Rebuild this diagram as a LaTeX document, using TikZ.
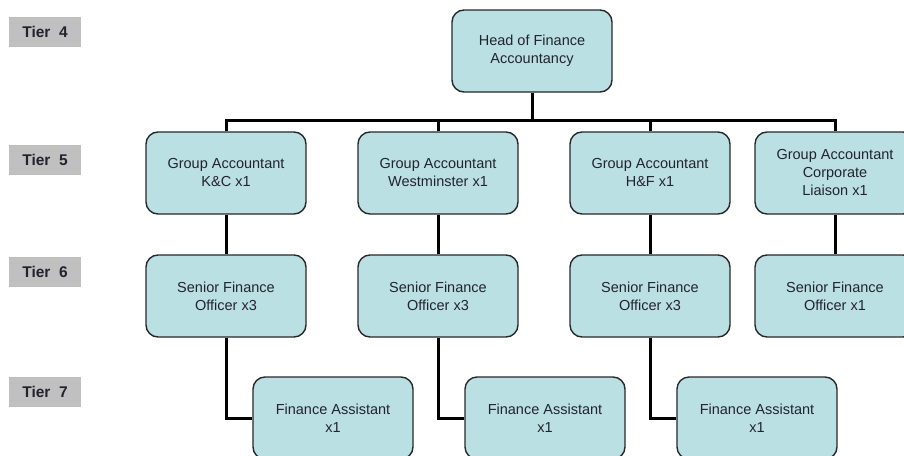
\documentclass[tikz,border=0pt]{standalone}
\usepackage{fontspec}
\setmainfont{Liberation Sans}
\usetikzlibrary{backgrounds}
\definecolor{boxfill}{RGB}{186,224,228}
\definecolor{boxline}{RGB}{40,40,40}
\definecolor{tierfill}{RGB}{192,192,192}
\definecolor{txt}{RGB}{35,35,45}
\tikzset{
  post/.style={draw=boxline, line width=1.4pt, fill=boxfill, rounded corners=12pt,
    minimum width=160pt, minimum height=82pt, inner sep=0pt, align=center,
    text=txt, font=\fontsize{14.5}{18}\selectfont},
  tier/.style={fill=tierfill, minimum width=72pt, minimum height=30pt, inner sep=0pt,
    text=txt, font=\fontsize{15.5}{17}\selectfont\bfseries},
  link/.style={draw=black, line width=3pt}
}
\begin{document}
\begin{tikzpicture}[x=1pt, y=-1pt]
\useasboundingbox (0,0) rectangle (904,455);
\clip (0,0) rectangle (904,455);

% tier markers
\node[tier] (t4) at (45,32)  {Tier\ \ 4};
\node[tier] (t5) at (45,160) {Tier\ \ 5};
\node[tier] (t6) at (45,272) {Tier\ \ 6};
\node[tier] (t7) at (45,392) {Tier\ \ 7};

% tier 4
\node[post] (head) at (532,51) {Head of Finance\\Accountancy};

% tier 5
\node[post] (ga1) at (226,173) {Group Accountant\\K\&C x1};
\node[post] (ga2) at (438,173) {Group Accountant\\Westminster x1};
\node[post] (ga3) at (650,173) {Group Accountant\\H\&F x1};
\node[post] (ga4) at (835,173) {Group Accountant\\Corporate\\Liaison x1};

% tier 6
\node[post] (sfo1) at (226,296) {Senior Finance\\Officer x3};
\node[post] (sfo2) at (438,296) {Senior Finance\\Officer x3};
\node[post] (sfo3) at (650,296) {Senior Finance\\Officer x3};
\node[post] (sfo4) at (835,296) {Senior Finance\\Officer x1};

% tier 7
\node[post] (fa1) at (333,418) {Finance Assistant\\x1};
\node[post] (fa2) at (545,418) {Finance Assistant\\x1};
\node[post] (fa3) at (757,418) {Finance Assistant\\x1};

% reporting lines, kept behind the boxes
\coordinate (bus) at (532,120);
\begin{scope}[on background layer]
\draw[link] (head.south) -- (bus);
\draw[link] (ga1.north) -- (ga1.north |- bus) -- (ga4.north |- bus) -- (ga4.north);
\draw[link] (ga2.north) -- (ga2.north |- bus);
\draw[link] (ga3.north) -- (ga3.north |- bus);
\draw[link] (ga1.south) -- (sfo1.north);
\draw[link] (ga2.south) -- (sfo2.north);
\draw[link] (ga3.south) -- (sfo3.north);
\draw[link] (ga4.south) -- (sfo4.north);
\draw[link] (sfo1.south) |- (fa1.west);
\draw[link] (sfo2.south) |- (fa2.west);
\draw[link] (sfo3.south) |- (fa3.west);
\end{scope}
\end{tikzpicture}
\end{document}
